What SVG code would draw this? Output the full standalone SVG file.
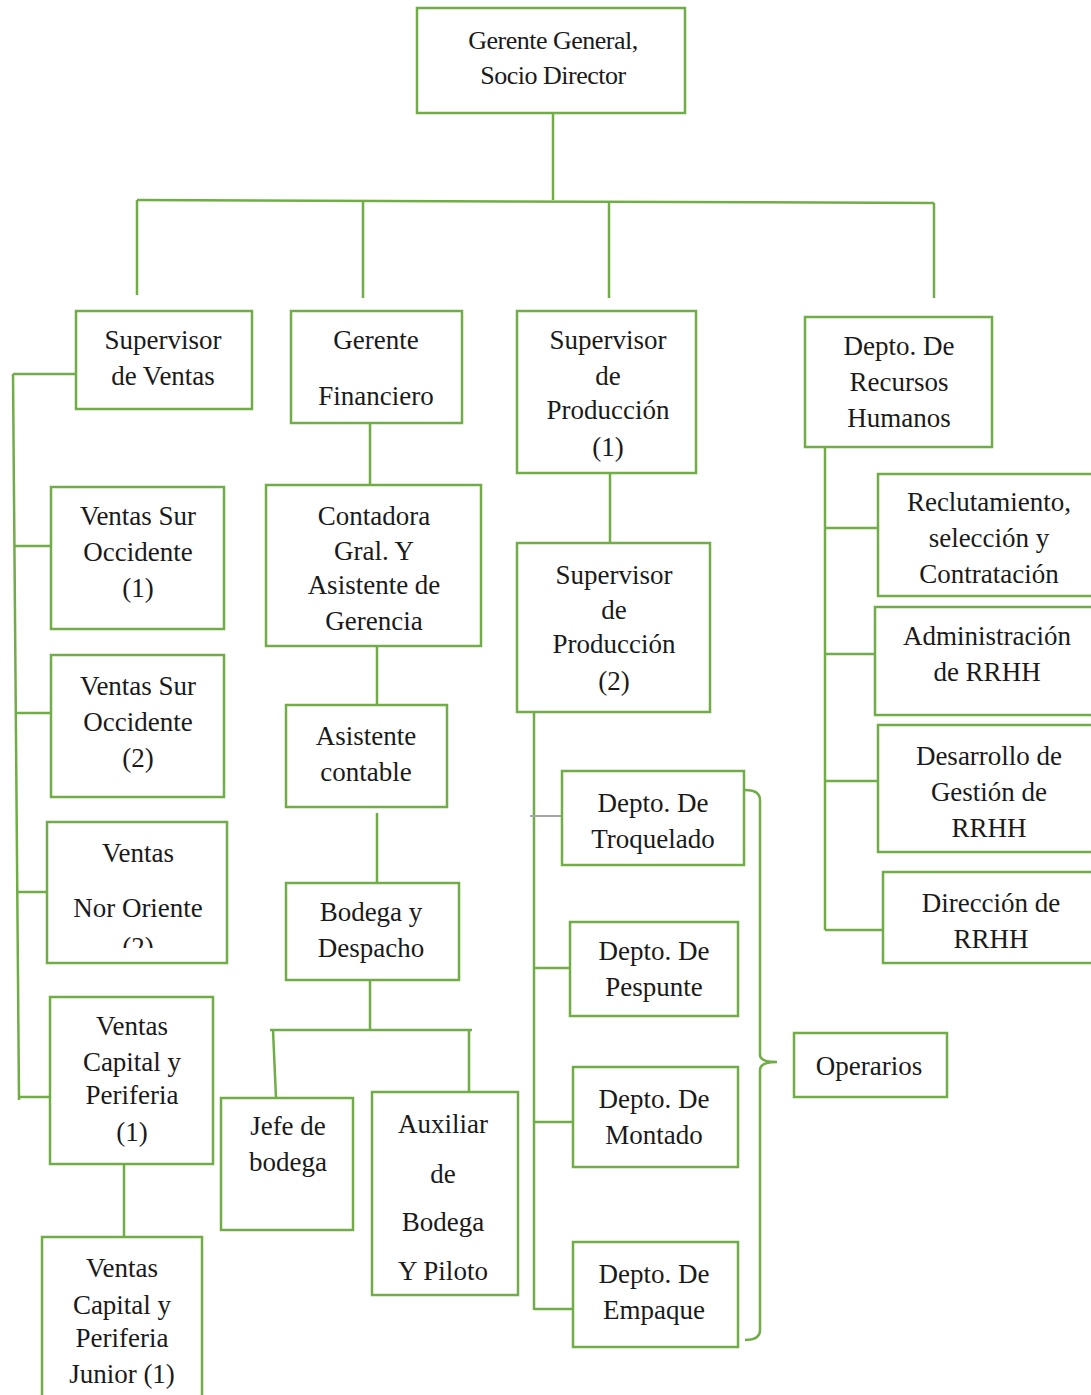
<svg xmlns="http://www.w3.org/2000/svg" width="1091" height="1395" viewBox="0 0 1091 1395">
<style>
.box{fill:#fff;stroke:#70AD47;stroke-width:2.5}
.ln{stroke:#70AD47;stroke-width:2.5;fill:none}
.gr{stroke:#A6A6A6;stroke-width:2;fill:none}
.t text{font-size:27px;fill:#1a1a1a;text-anchor:middle}
</style>
<defs>
<clipPath id="clipNor"><rect x="47" y="822" width="180" height="126"/></clipPath>
</defs>
<rect width="1091" height="1395" fill="#fff"/>
<g id="connectors">
<path class="ln" d="M553,113 V200"/>
<path class="ln" d="M137,200 L934,203"/>
<path class="ln" d="M137,200 V295 M363,200 V298 M609,201 V298 M934,203 V298"/>
<path class="ln" d="M13,374 H80 M13,374 L19,1100 M15,546 H51 M16,713 H51 M17,892 H47 M19,1097 H50"/>
<path class="ln" d="M124,1164 V1237"/>
<path class="ln" d="M370,423 V485 M377,646 V705 M377,813 V883 M370,980 V1030 M270,1030 H472 M273,1030 L276,1098 M469,1030 V1092"/>
<path class="ln" d="M610,473 V543 M534,712 V1310 M534,968 H570 M534,1122 H573 M534,1309 H577"/>
<path class="gr" d="M530,816 H562"/>
<path class="ln" d="M745,790 Q760,790 760,800 V1055 Q760,1062 777,1062 Q760,1062 760,1070 V1330 Q760,1340 745,1340"/>
<path class="ln" d="M825,447 V930 M825,528 H880 M825,654 H875 M825,781 H880 M825,930 H883"/>
</g>
<g class="t" font-family="Liberation Serif, Tinos, Noto Serif, DejaVu Serif, Times New Roman, Times, serif">
<g id="n-gerente-general"><rect class="box" x="417" y="8" width="268" height="105"/><text x="553" y="49" style="font-size:26px;letter-spacing:-0.5px">Gerente General,</text><text x="553" y="84" style="font-size:26px;letter-spacing:-0.5px">Socio Director</text></g>
<g id="n-sup-ventas"><rect class="box" x="76" y="311" width="176" height="98"/><text x="163" y="349">Supervisor</text><text x="163" y="385">de Ventas</text></g>
<g id="n-gerente-fin"><rect class="box" x="291" y="311" width="171" height="112"/><text x="376" y="349">Gerente</text><text x="376" y="405">Financiero</text></g>
<g id="n-sup-prod1"><rect class="box" x="517" y="311" width="179" height="162"/><text x="608" y="349">Supervisor</text><text x="608" y="385">de</text><text x="608" y="419">Producción</text><text x="608" y="456">(1)</text></g>
<g id="n-rrhh"><rect class="box" x="805" y="317" width="187" height="130"/><text x="899" y="355">Depto. De</text><text x="899" y="391">Recursos</text><text x="899" y="427">Humanos</text></g>
<g id="n-vso1"><rect class="box" x="51" y="487" width="173" height="142"/><text x="138" y="525">Ventas Sur</text><text x="138" y="561">Occidente</text><text x="138" y="597">(1)</text></g>
<g id="n-vso2"><rect class="box" x="51" y="655" width="173" height="142"/><text x="138" y="695">Ventas Sur</text><text x="138" y="731">Occidente</text><text x="138" y="767">(2)</text></g>
<g id="n-vno"><rect class="box" x="47" y="822" width="180" height="141"/><text x="138" y="862">Ventas</text><text x="138" y="917">Nor Oriente</text><text x="138" y="956" clip-path="url(#clipNor)">(2)</text></g>
<g id="n-vcp1"><rect class="box" x="50" y="997" width="163" height="167"/><text x="132" y="1035">Ventas</text><text x="132" y="1071">Capital y</text><text x="132" y="1104">Periferia</text><text x="132" y="1141">(1)</text></g>
<g id="n-vcpj"><rect class="box" x="42" y="1237" width="160" height="170"/><text x="122" y="1277">Ventas</text><text x="122" y="1314">Capital y</text><text x="122" y="1347">Periferia</text><text x="122" y="1383">Junior (1)</text></g>
<g id="n-contadora"><rect class="box" x="266" y="485" width="215" height="161"/><text x="374" y="525">Contadora</text><text x="374" y="560">Gral. Y</text><text x="374" y="594">Asistente de</text><text x="374" y="630">Gerencia</text></g>
<g id="n-asistente"><rect class="box" x="286" y="705" width="161" height="102"/><text x="366" y="745">Asistente</text><text x="366" y="781">contable</text></g>
<g id="n-bodega"><rect class="box" x="286" y="883" width="173" height="97"/><text x="371" y="921">Bodega y</text><text x="371" y="957">Despacho</text></g>
<g id="n-jefe"><rect class="box" x="221" y="1098" width="132" height="132"/><text x="288" y="1135">Jefe de</text><text x="288" y="1171">bodega</text></g>
<g id="n-auxiliar"><rect class="box" x="372" y="1092" width="146" height="203"/><text x="443" y="1133">Auxiliar</text><text x="443" y="1183">de</text><text x="443" y="1231">Bodega</text><text x="443" y="1280">Y Piloto</text></g>
<g id="n-sup-prod2"><rect class="box" x="517" y="543" width="193" height="169"/><text x="614" y="584">Supervisor</text><text x="614" y="619">de</text><text x="614" y="653">Producción</text><text x="614" y="690">(2)</text></g>
<g id="n-troquelado"><rect class="box" x="562" y="771" width="182" height="94"/><text x="653" y="812">Depto. De</text><text x="653" y="848">Troquelado</text></g>
<g id="n-pespunte"><rect class="box" x="570" y="922" width="168" height="94"/><text x="654" y="960">Depto. De</text><text x="654" y="996">Pespunte</text></g>
<g id="n-montado"><rect class="box" x="573" y="1067" width="165" height="100"/><text x="654" y="1108">Depto. De</text><text x="654" y="1144">Montado</text></g>
<g id="n-empaque"><rect class="box" x="573" y="1242" width="165" height="105"/><text x="654" y="1283">Depto. De</text><text x="654" y="1319">Empaque</text></g>
<g id="n-operarios"><rect class="box" x="794" y="1033" width="153" height="64"/><text x="869" y="1075">Operarios</text></g>
<g id="n-reclutamiento"><rect class="box" x="878" y="474" width="220" height="122"/><text x="989" y="511">Reclutamiento,</text><text x="989" y="547">selección y</text><text x="989" y="583">Contratación</text></g>
<g id="n-administracion"><rect class="box" x="875" y="607" width="223" height="108"/><text x="987" y="645">Administración</text><text x="987" y="681">de RRHH</text></g>
<g id="n-desarrollo"><rect class="box" x="878" y="725" width="220" height="127"/><text x="989" y="765">Desarrollo de</text><text x="989" y="801">Gestión de</text><text x="989" y="837">RRHH</text></g>
<g id="n-direccion"><rect class="box" x="883" y="872" width="215" height="91"/><text x="991" y="912">Dirección de</text><text x="991" y="948">RRHH</text></g>
</g>
</svg>
